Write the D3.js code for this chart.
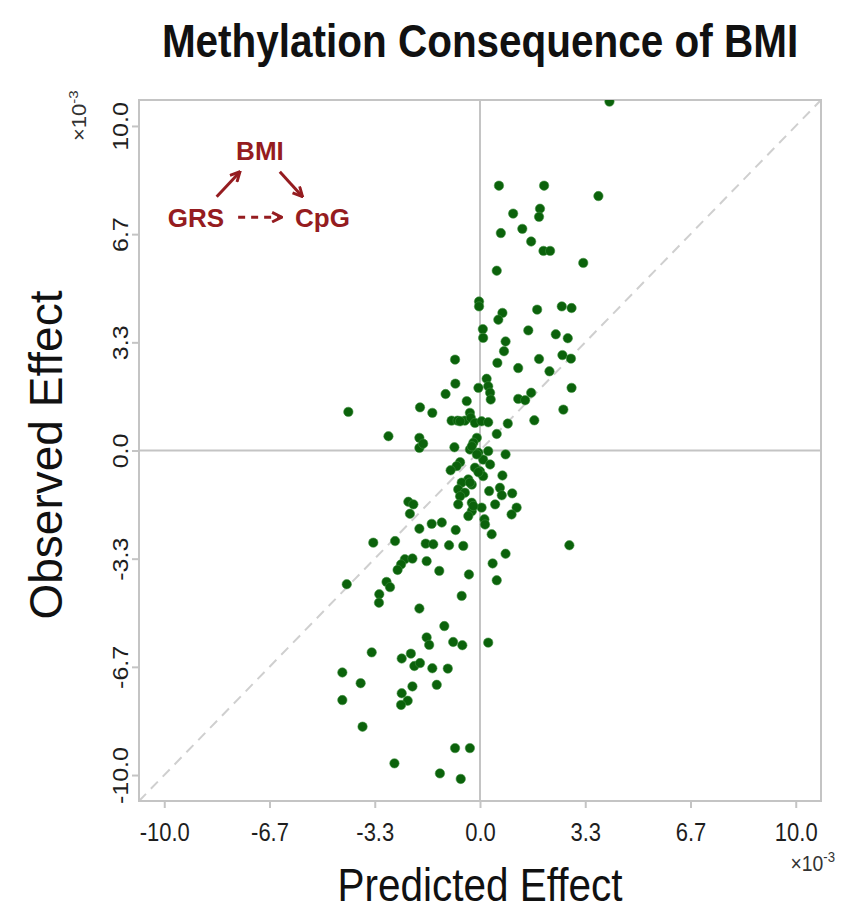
<!DOCTYPE html>
<html><head><meta charset="utf-8">
<script src="https://cdn.jsdelivr.net/npm/d3@7"></script>
<style>body{margin:0;background:#fff} svg{display:block}</style>
</head><body><svg id="c" width="849" height="917"></svg>
<script>
// ---- data (units of 1e-3) ----
const predicted = [4.10,0.60,2.03,3.75,1.05,1.90,1.87,1.34,0.66,1.62,2.01,2.22,3.27,0.53,-0.03,-0.03,1.81,2.59,2.90,0.71,
0.58,0.09,0.10,1.53,2.40,2.78,0.81,0.76,-0.79,0.55,1.87,2.61,2.88,1.21,2.20,0.21,0.26,-0.05,0.32,0.34,
-0.78,-1.09,-0.42,-1.90,-1.51,-4.17,1.21,1.43,1.62,2.90,2.64,1.72,0.88,-0.90,-0.71,-0.48,-0.32,-0.29,-0.16,0.05,
0.26,0.53,-2.90,-1.92,-1.92,-1.80,-0.81,-0.10,-0.21,-0.32,-0.05,0.26,0.81,0.10,0.32,-0.63,-0.74,-0.93,-0.16,0.00,
0.10,0.71,-0.37,-0.58,-0.26,-0.69,-0.48,-0.63,0.29,0.63,0.69,1.02,-0.69,-0.26,0.05,0.48,1.16,-2.27,-2.11,-2.22,
-0.26,-0.37,0.14,0.16,1.00,0.37,-1.92,-1.53,-1.21,-0.77,-3.38,-2.69,-1.72,-1.48,-0.98,-0.53,0.81,2.83,-2.38,-2.14,
-2.50,-2.61,-1.69,-1.29,0.40,-0.35,0.53,-4.22,-2.96,-2.85,-3.19,-3.20,-0.58,-1.92,-1.13,-1.69,-1.61,-0.85,-0.56,0.26,
-3.43,-2.19,-2.48,-4.36,-3.78,-2.08,-1.90,-1.51,-1.02,-2.14,-1.37,-2.48,-2.29,-2.50,-4.36,-3.72,-0.79,-0.32,-2.71,-1.27,
-0.61,-0.63,-0.10,-0.26,-0.32,-0.21,-0.05];
const observed = [10.75,8.16,8.16,7.84,7.30,7.45,7.20,6.83,6.70,6.44,6.15,6.15,5.78,5.54,4.59,4.44,4.34,4.44,4.39,4.24,
4.03,3.74,3.47,3.70,3.58,3.46,3.36,3.06,2.80,2.70,2.82,2.94,2.83,2.54,2.44,2.21,1.98,1.93,1.78,1.57,
2.06,1.74,1.52,1.33,1.16,1.19,1.59,1.55,1.78,1.93,1.26,0.93,0.83,0.92,0.92,0.92,1.16,1.01,0.85,0.90,
0.87,0.51,0.44,0.39,0.08,0.21,0.10,0.39,0.24,0.03,-0.07,-0.02,-0.12,-0.28,-0.43,-0.36,-0.48,-0.61,-0.53,-0.64,
-0.79,-0.77,-0.89,-0.99,-1.05,-1.20,-1.30,-1.41,-1.25,-1.15,-1.38,-1.32,-1.66,-1.61,-1.76,-1.66,-1.76,-1.58,-1.66,-1.95,
-1.87,-2.02,-2.12,-2.28,-1.97,-2.58,-2.41,-2.26,-2.22,-2.45,-2.84,-2.79,-2.87,-2.89,-2.92,-2.94,-3.18,-2.92,-3.35,-3.33,
-3.51,-3.68,-3.41,-3.71,-3.48,-3.82,-4.00,-4.12,-4.05,-4.21,-4.43,-4.69,-4.48,-4.87,-5.41,-5.76,-5.99,-5.90,-6.00,-5.92,
-6.22,-6.26,-6.41,-6.84,-7.17,-6.64,-6.55,-6.71,-6.72,-7.27,-7.22,-7.48,-7.71,-7.84,-7.69,-8.51,-9.17,-9.17,-9.64,-9.95,
-10.12,0.90,-0.12,0.13,-0.99,-1.71,-0.67];
const tickValues = [-10, -20/3, -10/3, 0, 10/3, 20/3, 10];
const tickLabels = ["-10.0","-6.7","-3.3","0.0","3.3","6.7","10.0"];
const titleText = "Methylation Consequence of BMI";
const xLabel = "Predicted Effect";
const yLabel = "Observed Effect";
const dagLabels = ["GRS","BMI","CpG"];
const scaleNote = "×10";
const scaleExp = "-3";

// ---- layout ----
const box = {l:139, r:821, t:100, b:801};
const dom = [-10.8, 10.8];
const SQ = 0.88;
const font = "'Liberation Sans', Arial, Helvetica, sans-serif";
const gray = "#c4c4c4";
const red = "#951c20";

const svg = d3.select("#c");
const x = d3.scaleLinear().domain(dom).range([box.l, box.r]);
const y = d3.scaleLinear().domain(dom).range([box.b, box.t]);

const defs = svg.append("defs");
defs.append("clipPath").attr("id","clip")
  .append("rect").attr("x",box.l).attr("y",box.t).attr("width",box.r-box.l).attr("height",box.b-box.t);

// zero lines
svg.append("line").attr("x1",x(0)).attr("x2",x(0)).attr("y1",box.t).attr("y2",box.b)
  .attr("stroke",gray).attr("stroke-width",2);
svg.append("line").attr("x1",box.l).attr("x2",box.r).attr("y1",y(0)).attr("y2",y(0))
  .attr("stroke",gray).attr("stroke-width",2);
// identity line
svg.append("line").attr("x1",x(dom[0])).attr("y1",y(dom[0])).attr("x2",x(dom[1])).attr("y2",y(dom[1]))
  .attr("stroke","#cfcfcf").attr("stroke-width",2).attr("stroke-dasharray","10,7");

// axes
const xAxis = svg.append("g").attr("transform",`translate(0,${box.b})`)
  .call(d3.axisBottom(x).tickValues(tickValues).tickFormat((d,i)=>tickLabels[i]).tickSize(7));
const yAxis = svg.append("g").attr("transform",`translate(${box.l},0)`)
  .call(d3.axisLeft(y).tickValues(tickValues).tickFormat((d,i)=>tickLabels[i]).tickSize(7));
[xAxis,yAxis].forEach(g=>{
  g.select(".domain").remove();
  g.selectAll(".tick line").attr("stroke",gray).attr("stroke-width",2);
  g.selectAll(".tick text").attr("fill","#1e1e1e").attr("font-family",font).attr("font-size",25);
});
xAxis.selectAll(".tick text").attr("y",0).attr("dy",0)
  .attr("transform",`translate(0,40) scale(${SQ},1)`).attr("text-anchor","middle");
yAxis.selectAll(".tick text").attr("x",0).attr("dy",0)
  .attr("transform",`translate(-11,0) scale(${SQ},1) rotate(-90)`).attr("text-anchor","middle");

// box
svg.append("rect").attr("x",box.l).attr("y",box.t).attr("width",box.r-box.l).attr("height",box.b-box.t)
  .attr("fill","none").attr("stroke",gray).attr("stroke-width",2);

// points
svg.append("g").attr("clip-path","url(#clip)").selectAll("circle")
  .data(predicted.map((p,i)=>[p,observed[i]])).join("circle")
  .attr("cx",d=>x(d[0])).attr("cy",d=>y(d[1])).attr("r",4.7)
  .attr("fill","#0b620b").attr("stroke","#3f8f3f").attr("stroke-width",0.8).attr("stroke-opacity",0.7);

// titles
svg.append("text").attr("transform",`translate(${(box.l+box.r)/2},57) scale(${SQ},1)`)
  .attr("text-anchor","middle").attr("font-family",font).attr("font-weight","bold")
  .attr("font-size",46).attr("fill","#111").text(titleText);
svg.append("text").attr("transform",`translate(${(box.l+box.r)/2},901) scale(${SQ},1)`)
  .attr("text-anchor","middle").attr("font-family",font).attr("font-size",46).attr("fill","#111").text(xLabel);
svg.append("text").attr("transform",`translate(62,455) rotate(-90)`)
  .attr("text-anchor","middle").attr("font-family",font).attr("font-size",46).attr("fill","#111").text(yLabel);

// x10^-3 notes
function note(tr, anchor){
  const t = svg.append("text").attr("transform",tr).attr("text-anchor",anchor)
    .attr("font-family",font).attr("font-size",22).attr("fill","#333");
  t.append("tspan").text(scaleNote);
  t.append("tspan").attr("dy",-9).attr("font-size",15).text(scaleExp);
}
note(`translate(835,871) scale(${SQ},1)`, "end");
note(`translate(86,141) scale(${SQ},1) rotate(-90)`, "start");

// DAG annotation (data coordinates)
defs.append("marker").attr("id","ah").attr("viewBox","0 0 10 10").attr("refX",9).attr("refY",5)
  .attr("markerWidth",12).attr("markerHeight",12).attr("markerUnits","userSpaceOnUse").attr("orient","auto")
  .append("path").attr("d","M1,1 L9,5 L1,9").attr("fill","none").attr("stroke",red).attr("stroke-width",2.4);
const nodes = [[-9.0,6.88],[-6.97,8.95],[-4.99,6.88]];
const g = svg.append("g");
dagLabels.forEach((lab,i)=>{
  g.append("text").attr("transform",`translate(${x(nodes[i][0])},${y(nodes[i][1])})`)
   .attr("text-anchor","middle").attr("font-family",font).attr("font-weight","bold")
   .attr("font-size",26).attr("fill",red).text(lab);
});
const arrows = [
  {from:[-8.34,7.82], to:[-7.60,8.59], dash:null},
  {from:[-6.34,8.59], to:[-5.62,7.82], dash:null},
  {from:[-7.66,7.19], to:[-6.28,7.19], dash:"7,6"}
];
arrows.forEach(a=>{
  g.append("line").attr("x1",x(a.from[0])).attr("y1",y(a.from[1])).attr("x2",x(a.to[0])).attr("y2",y(a.to[1]))
   .attr("stroke",red).attr("stroke-width",3).attr("stroke-dasharray",a.dash)
   .attr("marker-end","url(#ah)");
});
</script></body></html>
